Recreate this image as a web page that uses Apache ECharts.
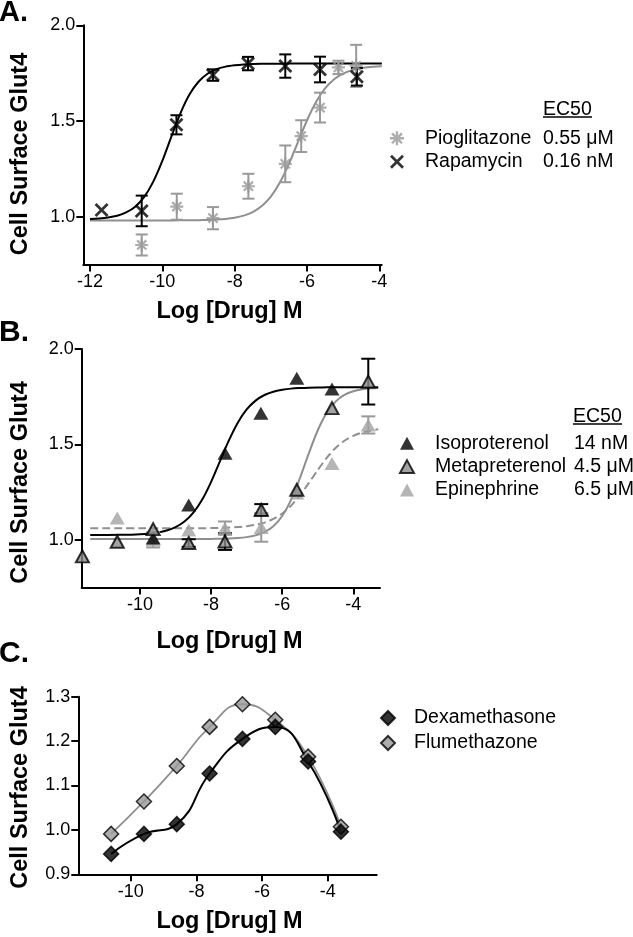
<!DOCTYPE html>
<html><head><meta charset="utf-8">
<script src="https://cdn.jsdelivr.net/npm/echarts@6/dist/echarts.min.js"></script>
<style>html,body{margin:0;padding:0;background:#fff}#c{width:633px;height:937px}</style>
</head><body><div id="c"></div>
<script>
// ---------- Panel A ----------
const rapaX = [-11.68, -10.57, -9.61, -8.6, -7.63, -6.6, -5.64, -4.62];
const rapaY = [1.035, 1.03, 1.48, 1.74, 1.80, 1.787, 1.769, 1.731];
const rapaErr = [0, 0.08, 0.05, 0.03, 0.035, 0.061, 0.067, 0.046];
const pioX = [-10.57, -9.6, -8.6, -7.62, -6.6, -6.16, -5.64, -5.13, -4.64];
const pioY = [0.852, 1.052, 0.992, 1.159, 1.276, 1.421, 1.57, 1.78, 1.788];
const pioErr = [0.055, 0.068, 0.058, 0.065, 0.096, 0.083, 0.078, 0.035, 0.11];
const rapaFitX = [-12, -11.75, -11.5, -11.25, -11, -10.75, -10.5, -10.25, -10, -9.75, -9.5, -9.25, -9, -8.75, -8.5, -8.25, -8, -7.75, -7.5, -7.25, -7, -6.75, -6.5, -6.25, -6, -5.5, -5, -4.5, -3.93];
const rapaFitY = [0.988, 0.991, 0.996, 1.005, 1.022, 1.052, 1.103, 1.183, 1.291, 1.418, 1.540, 1.638, 1.705, 1.747, 1.771, 1.784, 1.791, 1.7955, 1.798, 1.799, 1.7993, 1.7996, 1.7998, 1.7999, 1.80, 1.80, 1.80, 1.80, 1.80];
const pioFitX = [-12, -11.5, -11, -10.5, -10, -9.5, -9.25, -9, -8.75, -8.5, -8.25, -8, -7.75, -7.5, -7.25, -7, -6.75, -6.5, -6.25, -6, -5.75, -5.5, -5.25, -5, -4.75, -4.5, -4.25, -4, -3.93];
const pioFitY = [0.98, 0.98, 0.98, 0.98, 0.9802, 0.9806, 0.981, 0.9815, 0.9826, 0.9846, 0.9882, 0.9945, 1.0054, 1.0241, 1.0552, 1.1046, 1.178, 1.2758, 1.3897, 1.5027, 1.5988, 1.67, 1.7179, 1.7478, 1.7657, 1.7761, 1.7822, 1.7856, 1.7862];
const ec50A = {Pioglitazone: '0.55 μM', Rapamycin: '0.16 nM'};
const xTicksA = [-12, -10, -8, -6, -4];
const yTicksAB = [1.0, 1.5, 2.0];

// ---------- Panel B ----------
const isoX = [-9.63, -8.63, -7.61, -6.6, -5.59, -4.6];
const isoY = [1.01, 1.183, 1.454, 1.663, 1.847, 1.79];
const metaX = [-11.62, -10.64, -9.63, -8.63, -7.61, -6.59, -5.59, -4.6, -3.58];
const metaY = [0.913, 0.99, 1.056, 0.983, 0.991, 1.157, 1.262, 1.69, 1.829];
const metaErr = [0, 0, 0, 0.02, 0.044, 0.03, 0, 0, 0.12];
const epiX = [-10.64, -9.63, -8.63, -7.61, -6.59, -5.59, -4.6, -3.58];
const epiY = [1.114, 1.0, 1.052, 1.061, 1.065, 1.245, 1.40, 1.602];
const epiErr = [0, 0.04, 0, 0.035, 0.075, 0, 0, 0.045];
const isoFitX = [-11.4, -11, -10.5, -10.25, -10, -9.75, -9.5, -9.25, -9, -8.75, -8.5, -8.25, -8, -7.75, -7.5, -7.25, -7, -6.75, -6.5, -6.25, -6, -5.75, -5.5, -5.25, -5, -4.75, -4.5, -4, -3.5, -3.3];
const isoFitY = [1.025, 1.025, 1.026, 1.027, 1.029, 1.0327, 1.0386, 1.0488, 1.0664, 1.0955, 1.142, 1.211, 1.304, 1.4125, 1.521, 1.614, 1.683, 1.7295, 1.759, 1.7763, 1.786, 1.7923, 1.7954, 1.7975, 1.7985, 1.7991, 1.7995, 1.80, 1.80, 1.80];
const metaFitX = [-11.4, -11, -10.5, -10, -9.5, -9, -8.5, -8, -7.75, -7.5, -7.25, -7, -6.75, -6.5, -6.25, -6, -5.75, -5.5, -5.25, -5, -4.75, -4.5, -4.25, -4, -3.75, -3.5, -3.3];
const metaFitY = [1.004, 1.004, 1.004, 1.004, 1.004, 1.004, 1.0043, 1.0048, 1.0054, 1.0067, 1.0092, 1.014, 1.0231, 1.0402, 1.0712, 1.1248, 1.209, 1.324, 1.4545, 1.5742, 1.6651, 1.7241, 1.759, 1.7783, 1.7887, 1.7941, 1.796];
const epiFitX = [-11.4, -11, -10.5, -10, -9.5, -9, -8.5, -8.25, -8, -7.75, -7.5, -7.25, -7, -6.75, -6.5, -6.25, -6, -5.75, -5.5, -5.25, -5, -4.75, -4.5, -4.25, -4, -3.75, -3.5, -3.3];
const epiFitY = [1.06, 1.06, 1.06, 1.06, 1.06, 1.0603, 1.0607, 1.061, 1.0614, 1.0624, 1.064, 1.0667, 1.0713, 1.0786, 1.090, 1.1092, 1.138, 1.179, 1.233, 1.298, 1.366, 1.429, 1.481, 1.519, 1.545, 1.5624, 1.573, 1.579];
const ec50B = {Isoproterenol: '14 nM', Metapreterenol: '4.5 μM', Epinephrine: '6.5 μM'};
const xTicksBC = [-10, -8, -6, -4];

// ---------- Panel C ----------
const cX = [-10.6, -9.6, -8.6, -7.6, -6.6, -5.6, -4.6, -3.6];
const dexaY = [0.946, 0.991, 1.013, 1.127, 1.205, 1.232, 1.154, 0.996];
const fluY = [0.991, 1.064, 1.144, 1.232, 1.283, 1.248, 1.165, 1.007];
const yTicksC = [0.9, 1.0, 1.1, 1.2, 1.3];

const FONT = "'Liberation Sans', Arial, Helvetica, sans-serif";
const GREY = '#8f8f8f';
const zip = (xs, ys) => xs.map((x, i) => [x, ys[i]]);
const zip3 = (xs, ys, es) => xs.map((x, i) => [x, ys[i], es[i]]).filter(d => d[2] > 0);

const X_PATH = 'path://M0,1.4L1.4,0L10,8.6L8.6,10ZM8.6,0L10,1.4L1.4,10L0,8.6Z';
const AST_PATH = 'path://M0,4.15L10,4.15L10,5.85L0,5.85ZM5.85,0L5.85,10L4.15,10L4.15,0Z' +
  'M2.06,0.86L9.14,7.94L7.94,9.14L0.86,2.06Z' +
  'M9.14,2.06L2.06,9.14L0.86,7.94L7.94,0.86Z';

function xAx(grid, min, max, ticks) {
  return {type: 'value', gridIndex: grid, min, max,
    axisLine: {onZero: false, lineStyle: {color: '#000', width: 2}},
    axisTick: {customValues: ticks, length: 7, lineStyle: {color: '#000', width: 2}},
    axisLabel: {customValues: ticks, margin: 9, color: '#000', fontSize: 18, fontFamily: FONT},
    splitLine: {show: false}};
}
function yAx(grid, min, max, ticks) {
  return {type: 'value', gridIndex: grid, min, max,
    axisLine: {onZero: false, lineStyle: {color: '#000', width: 2}},
    axisTick: {customValues: ticks, length: 7, lineStyle: {color: '#000', width: 2}},
    axisLabel: {customValues: ticks, margin: 8, color: '#000', fontSize: 18, fontFamily: FONT,
      formatter: v => Number(v).toFixed(1)},
    splitLine: {show: false}};
}
function errSeries(idx, data, color, hw) {
  return {type: 'custom', xAxisIndex: idx, yAxisIndex: idx, z: 3, data, encode: {x: 0, y: 1},
    renderItem: (params, api) => {
      const x = api.value(0), y = api.value(1), e = api.value(2);
      const t = api.coord([x, y + e]), b = api.coord([x, y - e]);
      const st = {stroke: color, lineWidth: 2};
      return {type: 'group', children: [
        {type: 'line', shape: {x1: t[0], y1: t[1], x2: b[0], y2: b[1]}, style: st},
        {type: 'line', shape: {x1: t[0] - hw, y1: t[1], x2: t[0] + hw, y2: t[1]}, style: st},
        {type: 'line', shape: {x1: b[0] - hw, y1: b[1], x2: b[0] + hw, y2: b[1]}, style: st}
      ]};
    }};
}
function fit(idx, xs, ys, color, width, dashed) {
  return {type: 'line', xAxisIndex: idx, yAxisIndex: idx, data: zip(xs, ys), showSymbol: false,
    smooth: 0.3, z: 2, silent: true,
    lineStyle: {color, width, type: dashed ? [8, 4] : 'solid'}};
}
function pts(idx, name, xs, ys, symbol, size, itemStyle) {
  return {type: 'scatter', name, xAxisIndex: idx, yAxisIndex: idx, data: zip(xs, ys),
    symbol, symbolSize: size, z: 5, itemStyle};
}
function legendRich(n1, n2) {
  const base = {fontSize: 19.5, fontFamily: FONT, color: '#000', lineHeight: 20};
  return {s: Object.assign({width: n1}, base), n: Object.assign({width: n2}, base), v: Object.assign({}, base)};
}

const chart = echarts.init(document.getElementById('c'), null, {renderer: 'canvas'});
chart.setOption({
  animation: false,
  backgroundColor: '#fff',
  grid: [
    {left: 83.3, top: 25.3, width: 298.4, height: 239.2},
    {left: 81.7, top: 349, width: 298.3, height: 238.5},
    {left: 78.3, top: 696.7, width: 298.4, height: 177.6}
  ],
  xAxis: [xAx(0, -12.185, -3.934, xTicksA), xAx(1, -11.64, -3.25, xTicksBC), xAx(2, -11.6, -2.51, xTicksBC)],
  yAxis: [yAx(0, 0.75, 2.0, yTicksAB), yAx(1, 0.75, 2.0, yTicksAB), yAx(2, 0.9, 1.3, yTicksC)],
  legend: [
    {orient: 'vertical', left: 390, top: 128.3, padding: 0, itemWidth: 14, itemHeight: 14, itemGap: 3.4,
      selectedMode: false, data: ['Pioglitazone', 'Rapamycin'],
      formatter: n => `{s| }{n|${n}}{v|${ec50A[n]}}`,
      textStyle: {fontSize: 19.5, fontFamily: FONT, color: '#000', lineHeight: 20, rich: legendRich(16, 118)}},
    {orient: 'vertical', left: 399, top: 433.3, padding: 0, itemWidth: 14, itemHeight: 13, itemGap: 3.3,
      selectedMode: false, data: ['Isoproterenol', 'Metapreterenol', 'Epinephrine'],
      formatter: n => `{s| }{n|${n}}{v|${ec50B[n]}}`,
      textStyle: {fontSize: 19.5, fontFamily: FONT, color: '#000', lineHeight: 20, rich: legendRich(16, 139)}},
    {orient: 'vertical', left: 380, top: 708, padding: 0, itemWidth: 14, itemHeight: 14, itemGap: 5,
      selectedMode: false, data: ['Dexamethasone', 'Flumethazone'],
      formatter: n => `{s| }{n|${n}}`,
      textStyle: {fontSize: 19.5, fontFamily: FONT, color: '#000', lineHeight: 20, rich: legendRich(14, 200)}}
  ],
  series: [
    // A
    fit(0, pioFitX, pioFitY, GREY, 2),
    fit(0, rapaFitX, rapaFitY, '#000', 2),
    errSeries(0, zip3(pioX, pioY, pioErr), '#999999', 6),
    errSeries(0, zip3(rapaX, rapaY, rapaErr), '#000', 6),
    pts(0, 'Pioglitazone', pioX, pioY, AST_PATH, 13, {color: '#999999'}),
    pts(0, 'Rapamycin', rapaX, rapaY, X_PATH, 14, {color: '#000'}),
    // B
    fit(1, epiFitX, epiFitY, GREY, 2, true),
    fit(1, metaFitX, metaFitY, GREY, 2),
    fit(1, isoFitX, isoFitY, '#000', 2),
    errSeries(1, zip3(epiX, epiY, epiErr), '#999999', 7),
    errSeries(1, zip3(metaX, metaY, metaErr), '#000', 7),
    pts(1, 'Epinephrine', epiX, epiY, 'triangle', [15, 13], {color: '#a3a3a3'}),
    pts(1, 'Isoproterenol', isoX, isoY, 'triangle', [15, 13], {color: '#000'}),
    pts(1, 'Metapreterenol', metaX, metaY, 'triangle', [13, 12], {color: '#8c8c8c', borderColor: '#000', borderWidth: 2}),
    // C
    {type: 'line', xAxisIndex: 2, yAxisIndex: 2, data: zip(cX, fluY), showSymbol: false, smooth: 0.5,
      z: 2, silent: true, lineStyle: {color: GREY, width: 1.8}},
    {type: 'line', xAxisIndex: 2, yAxisIndex: 2, data: zip(cX, dexaY), showSymbol: false, smooth: 0.5,
      z: 2, silent: true, lineStyle: {color: '#000', width: 2}},
    pts(2, 'Flumethazone', cX, fluY, 'diamond', 15, {color: '#999999', borderColor: '#000', borderWidth: 1.5}),
    pts(2, 'Dexamethasone', cX, dexaY, 'diamond', 15, {color: '#000', borderColor: '#000', borderWidth: 1.5})
  ],
  graphic: [
    {type: 'text', x: -1, y: 13, style: {text: 'A.', font: `bold 29px ${FONT}`, fill: '#000', verticalAlign: 'middle'}},
    {type: 'text', x: -1, y: 332.5, style: {text: 'B.', font: `bold 30px ${FONT}`, fill: '#000', verticalAlign: 'middle'}},
    {type: 'text', x: -1, y: 654, style: {text: 'C.', font: `bold 30px ${FONT}`, fill: '#000', verticalAlign: 'middle'}},
    {type: 'text', x: 229.5, y: 311.5, style: {text: 'Log [Drug] M', font: `bold 23.5px ${FONT}`, fill: '#000', align: 'center', verticalAlign: 'middle'}},
    {type: 'text', x: 229.5, y: 641.5, style: {text: 'Log [Drug] M', font: `bold 23.5px ${FONT}`, fill: '#000', align: 'center', verticalAlign: 'middle'}},
    {type: 'text', x: 229.5, y: 921.5, style: {text: 'Log [Drug] M', font: `bold 23.5px ${FONT}`, fill: '#000', align: 'center', verticalAlign: 'middle'}},
    {type: 'text', x: 20.5, y: 154, rotation: Math.PI / 2, style: {text: 'Cell Surface Glut4', font: `bold 23.5px ${FONT}`, fill: '#000', align: 'center', verticalAlign: 'middle'}},
    {type: 'text', x: 20.5, y: 482.5, rotation: Math.PI / 2, style: {text: 'Cell Surface Glut4', font: `bold 23.5px ${FONT}`, fill: '#000', align: 'center', verticalAlign: 'middle'}},
    {type: 'text', x: 20.5, y: 787.5, rotation: Math.PI / 2, style: {text: 'Cell Surface Glut4', font: `bold 23.5px ${FONT}`, fill: '#000', align: 'center', verticalAlign: 'middle'}},
    {type: 'text', x: 543, y: 110, style: {text: 'EC50', font: `19.5px ${FONT}`, fill: '#000', verticalAlign: 'middle'}},
    {type: 'line', shape: {x1: 543, y1: 117, x2: 592, y2: 117}, style: {stroke: '#000', lineWidth: 1.5}},
    {type: 'text', x: 573, y: 417, style: {text: 'EC50', font: `19.5px ${FONT}`, fill: '#000', verticalAlign: 'middle'}},
    {type: 'line', shape: {x1: 573, y1: 424, x2: 622, y2: 424}, style: {stroke: '#000', lineWidth: 1.5}}
  ]
});
</script></body></html>
